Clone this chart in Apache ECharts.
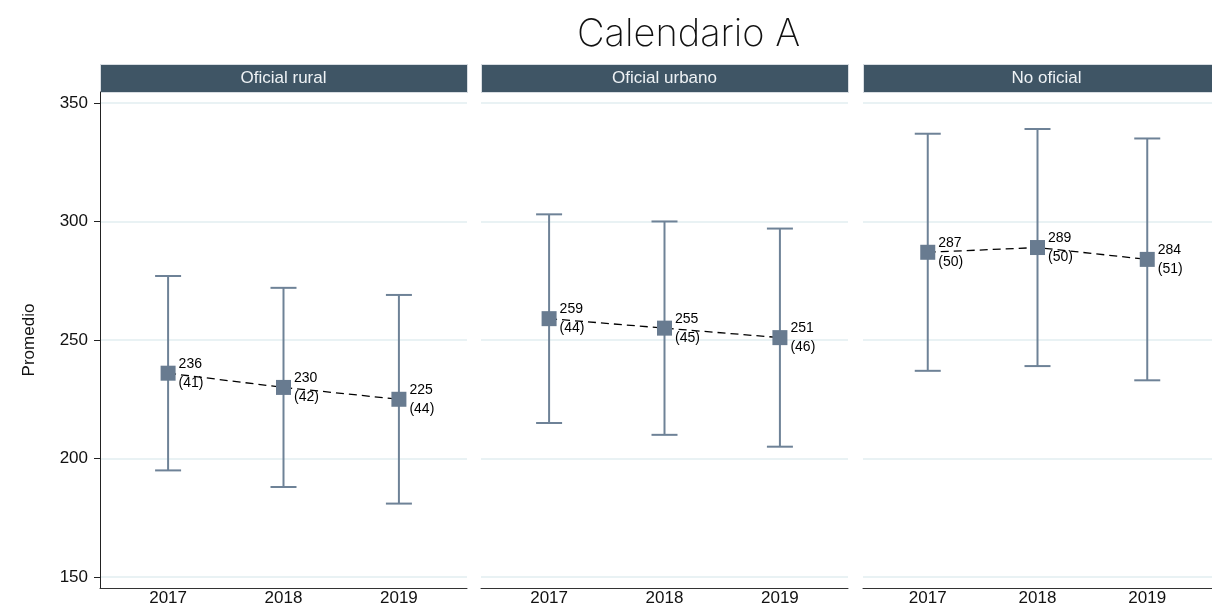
<!DOCTYPE html>
<html>
<head>
<meta charset="utf-8">
<script src="https://cdn.jsdelivr.net/npm/echarts@6/dist/echarts.min.js"></script>
<style>
	html, body { margin: 0; padding: 0; background: #fff; }
	#chart { width: 1212px; height: 608px; }
</style>
</head>
<body>
<div id="chart"></div>
<script>
	'use strict'
	/*----data----*/
	var years = [2017, 2018, 2019];
	var yTicks = [150, 200, 250, 300, 350];
	var panels = ['Oficial rural', 'Oficial urbano', 'No oficial'];

	var meanRural = [236, 230, 225];
	var sdRural = [41, 42, 44];
	var lowRural = [195, 188, 181];
	var highRural = [277, 272, 269];

	var meanUrbano = [259, 255, 251];
	var sdUrbano = [44, 45, 46];
	var lowUrbano = [215, 210, 205];
	var highUrbano = [303, 300, 297];

	var meanNoOf = [287, 289, 284];
	var sdNoOf = [50, 50, 51];
	var lowNoOf = [237, 239, 233];
	var highNoOf = [337, 339, 335];

	var means = [meanRural, meanUrbano, meanNoOf];
	var sds = [sdRural, sdUrbano, sdNoOf];
	var lows = [lowRural, lowUrbano, lowNoOf];
	var highs = [highRural, highUrbano, highNoOf];

	/*----layout----*/
	var lefts = [100, 481, 863];
	var panelW = 367;
	var barColor = '#6e8297';
	var markColor = '#687b90';
	var gridColor = '#e2eef0';

	var grids = [], xAxes = [], yAxes = [], series = [], graphics = [];

	lefts.forEach(function(left, i) {
		grids.push({ left: left, width: panelW, top: 92, bottom: 20 });
		xAxes.push({
			gridIndex: i,
			type: 'value',
			min: 2016.41,
			max: 2019.59,
			axisLine: { lineStyle: { color: '#333', width: 1 } },
			axisTick: { show: false, customValues: years },
			splitLine: { show: false },
			axisLabel: {
				customValues: years,
				color: '#111',
				fontSize: 17,
				margin: 2,
				fontFamily: 'Liberation Sans, Arial',
				formatter: function(v) { return String(v); }
			}
		});
		yAxes.push({
			gridIndex: i,
			type: 'value',
			min: 145.4,
			max: 354.6,
			axisLine: { show: i === 0, lineStyle: { color: '#222', width: 1 } },
			axisTick: { show: i === 0, customValues: yTicks, length: 6, lineStyle: { color: '#222' } },
			splitLine: { show: true, lineStyle: { color: gridColor, width: 1.5 } },
			axisLabel: {
				show: i === 0,
				customValues: yTicks,
				color: '#111',
				fontSize: 17,
				margin: 12,
				fontFamily: 'Liberation Sans, Arial'
			},
			name: i === 0 ? 'Promedio' : '',
			nameLocation: 'middle',
			nameGap: 62,
			nameTextStyle: { fontSize: 17, color: '#111', fontFamily: 'Liberation Sans, Arial' }
		});

		series.push({
			type: 'custom',
			xAxisIndex: i,
			yAxisIndex: i,
			z: 2,
			data: years.map(function(y, j) { return [y, lows[i][j], highs[i][j]]; }),
			renderItem: function(params, api) {
				var lo = api.coord([api.value(0), api.value(1)]);
				var hi = api.coord([api.value(0), api.value(2)]);
				var cap = 13;
				var st = { stroke: barColor, lineWidth: 2 };
				return {
					type: 'group',
					children: [
						{ type: 'line', shape: { x1: lo[0], y1: lo[1], x2: hi[0], y2: hi[1] }, style: st },
						{ type: 'line', shape: { x1: lo[0] - cap, y1: lo[1], x2: lo[0] + cap, y2: lo[1] }, style: st },
						{ type: 'line', shape: { x1: hi[0] - cap, y1: hi[1], x2: hi[0] + cap, y2: hi[1] }, style: st }
					]
				};
			}
		});
		series.push({
			type: 'line',
			xAxisIndex: i,
			yAxisIndex: i,
			z: 3,
			symbol: 'none',
			silent: true,
			data: years.map(function(y, j) { return [y, means[i][j]]; }),
			lineStyle: { color: '#000', width: 1.3, type: [8, 5] }
		});
		series.push({
			type: 'scatter',
			xAxisIndex: i,
			yAxisIndex: i,
			z: 4,
			symbol: 'rect',
			symbolSize: 15,
			data: years.map(function(y, j) { return [y, means[i][j], sds[i][j]]; }),
			itemStyle: { color: markColor, opacity: 1 },
			label: {
				show: true,
				position: 'right',
				distance: 3,
				fontSize: 14,
				color: '#000',
				fontFamily: 'Liberation Sans, Arial',
				lineHeight: 19,
				formatter: function(p) { return p.value[1] + '\n(' + p.value[2] + ')'; }
			}
		});

		graphics.push({
			type: 'rect',
			left: left,
			top: 64,
			shape: { width: panelW, height: 28 },
			style: { fill: '#3f5565', stroke: '#d8dde2', lineWidth: 1 }
		});
		graphics.push({
			type: 'text',
			x: left + panelW / 2,
			y: 78,
			style: {
				text: panels[i],
				fill: '#eef2f5',
				fontSize: 17,
				fontFamily: 'Liberation Sans, Arial',
				align: 'center',
				verticalAlign: 'middle'
			}
		});
	});

	var chart = echarts.init(document.getElementById('chart'));
	chart.setOption({
		animation: false,
		title: {
			text: 'Calendario A',
			left: 572,
			top: 11,
			textStyle: { fontSize: 38, fontWeight: 200, color: '#111', fontFamily: 'Inter, Lato, sans-serif' }
		},
		grid: grids,
		xAxis: xAxes,
		yAxis: yAxes,
		series: series,
		graphic: graphics
	});
</script>
</body>
</html>
